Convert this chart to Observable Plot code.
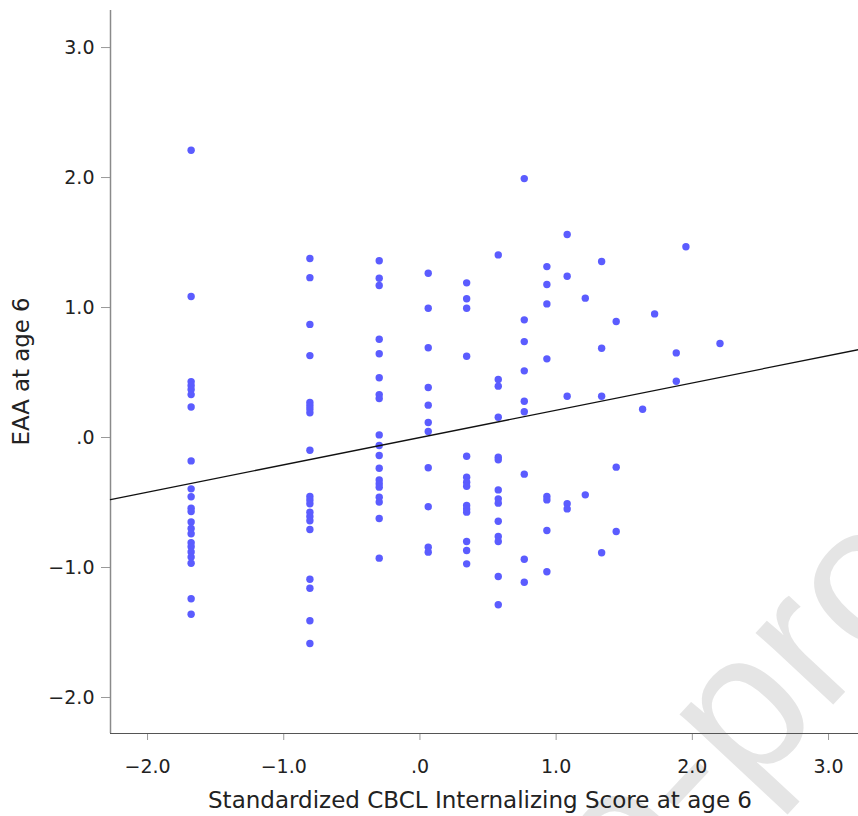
<!DOCTYPE html>
<html><head><meta charset="utf-8">
<script src="https://cdn.jsdelivr.net/npm/d3@7"></script>
<script src="https://cdn.jsdelivr.net/npm/@observablehq/plot@0.6"></script>
<style>
html,body{margin:0;padding:0;background:#fff;overflow:hidden;}
#chart{width:858px;height:816px;position:relative;}
</style></head><body><div id="chart"></div>
<script>
// Standardized CBCL internalizing score levels (x) and EAA values (y) observed at each level
const internalizingLevels = [-1.68, -0.808, -0.299, 0.061, 0.343, 0.575, 0.766, 0.932, 1.081, 1.214, 1.334, 1.441, 1.635, 1.723, 1.882, 1.953, 2.203];
const eaaLevel1  = [2.21, 1.085, 0.43, 0.40, 0.37, 0.33, 0.235, -0.18, -0.395, -0.456, -0.544, -0.57, -0.65, -0.70, -0.74, -0.81, -0.84, -0.88, -0.92, -0.967, -1.24, -1.36];
const eaaLevel2  = [1.377, 1.23, 0.87, 0.63, 0.27, 0.245, 0.22, 0.19, -0.098, -0.454, -0.48, -0.51, -0.574, -0.608, -0.64, -0.708, -1.09, -1.16, -1.41, -1.585];
const eaaLevel3  = [1.36, 1.225, 1.17, 0.756, 0.644, 0.46, 0.33, 0.30, 0.02, -0.062, -0.138, -0.236, -0.326, -0.356, -0.382, -0.459, -0.497, -0.623, -0.928];
const eaaLevel4  = [1.264, 0.995, 0.69, 0.385, 0.249, 0.115, 0.046, -0.233, -0.533, -0.844, -0.882];
const eaaLevel5  = [1.19, 1.067, 0.995, 0.625, -0.144, -0.305, -0.344, -0.375, -0.523, -0.549, -0.574, -0.80, -0.869, -0.972];
const eaaLevel6  = [1.405, 0.446, 0.395, 0.156, -0.151, -0.172, -0.403, -0.472, -0.505, -0.644, -0.762, -0.80, -1.069, -1.287];
const eaaLevel7  = [1.992, 0.905, 0.738, 0.513, 0.279, 0.198, -0.282, -0.936, -1.113];
const eaaLevel8  = [1.315, 1.177, 1.028, 0.605, -0.454, -0.48, -0.715, -1.033];
const eaaLevel9  = [1.562, 1.241, 0.318, -0.51, -0.549];
const eaaLevel10 = [1.072, -0.441];
const eaaLevel11 = [1.354, 0.687, 0.318, -0.887];
const eaaLevel12 = [0.892, -0.228, -0.723];
const eaaLevel13 = [0.218];
const eaaLevel14 = [0.951];
const eaaLevel15 = [0.651, 0.433];
const eaaLevel16 = [1.467];
const eaaLevel17 = [0.723];
const eaaByLevel = [eaaLevel1, eaaLevel2, eaaLevel3, eaaLevel4, eaaLevel5, eaaLevel6, eaaLevel7, eaaLevel8, eaaLevel9, eaaLevel10, eaaLevel11, eaaLevel12, eaaLevel13, eaaLevel14, eaaLevel15, eaaLevel16, eaaLevel17];

// Fit line (linear regression) parameters
const fitIntercept = 0.0;
const fitSlope = 0.21;

// Axes
const xTicks = [-2, -1, 0, 1, 2, 3];
const yTicks = [-2, -1, 0, 1, 2, 3];
const xDomain = [-2.272, 3.22];
const yDomain = [-2.277, 3.285];
const xTitle = "Standardized CBCL Internalizing Score at age 6";
const yTitle = "EAA at age 6";
const watermarkLead = "Journal Pre-";
const watermarkTail = "proof";

const points = internalizingLevels.flatMap((x, i) => eaaByLevel[i].map(y => ({x, y})));
const fmt = d => d === 0 ? ".0" : (d < 0 ? "\u2212" + Math.abs(d).toFixed(1) : d.toFixed(1));

const plot = Plot.plot({
  width: 858,
  height: 816,
  marginLeft: 110,
  marginRight: 0,
  marginTop: 10,
  marginBottom: 83,
  style: {fontFamily: "'DejaVu Sans', sans-serif", fontSize: "19px", color: "#222", background: "#fff"},
  x: {domain: xDomain},
  y: {domain: yDomain},
  marks: [
    Plot.axisX(xTicks, {tickSize: 7, color: "#999", tickFormat: () => "", label: null}),
    Plot.axisX(xTicks, {tickSize: 0, tickPadding: 26, color: "#222", tickFormat: fmt, label: null, fontSize: 19}),
    Plot.axisY(yTicks, {tickSize: 9, color: "#999", tickFormat: () => "", label: null}),
    Plot.axisY(yTicks, {tickSize: 0, tickPadding: 16, color: "#222", tickFormat: fmt, label: null, fontSize: 19}),
    Plot.ruleX([xDomain[0]], {stroke: "#8a8a8a", strokeWidth: 1.5}),
    Plot.ruleY([yDomain[0]], {stroke: "#555", strokeWidth: 1.2}),
    Plot.dot(points, {x: "x", y: "y", r: 3.7, fill: "#5b5cff", stroke: null}),
    Plot.line(xDomain, {x: d => d, y: d => fitIntercept + fitSlope * d, stroke: "#111", strokeWidth: 1.3})
  ]
});

const svg = d3.select(plot);
const xs = plot.scale("x"), ys = plot.scale("y");
// watermark behind everything
const wm = svg.insert("g", ":first-child")
  .attr("transform", "translate(748,796) rotate(-47)")
  .attr("fill", "#e5e5e5")
  .attr("font-family", "'Liberation Sans', Arial, sans-serif")
  .attr("font-size", 200);
wm.append("text").attr("text-anchor", "end").text(watermarkLead);
wm.append("text").attr("text-anchor", "start").text(watermarkTail);

const xMid = (xs.range[0] + xs.range[1]) / 2;
const yMid = (ys.range[0] + ys.range[1]) / 2;
svg.append("text")
  .attr("x", xMid - 4).attr("y", 808)
  .attr("text-anchor", "middle")
  .attr("font-size", 23)
  .attr("textLength", 544)
  .attr("lengthAdjust", "spacingAndGlyphs")
  .attr("fill", "#222")
  .text(xTitle);
svg.append("text")
  .attr("transform", `translate(29,${yMid}) rotate(-90)`)
  .attr("text-anchor", "middle")
  .attr("font-size", 23)
  .attr("textLength", 148)
  .attr("lengthAdjust", "spacingAndGlyphs")
  .attr("fill", "#222")
  .text(yTitle);

document.getElementById("chart").appendChild(plot);
</script>
</body></html>
